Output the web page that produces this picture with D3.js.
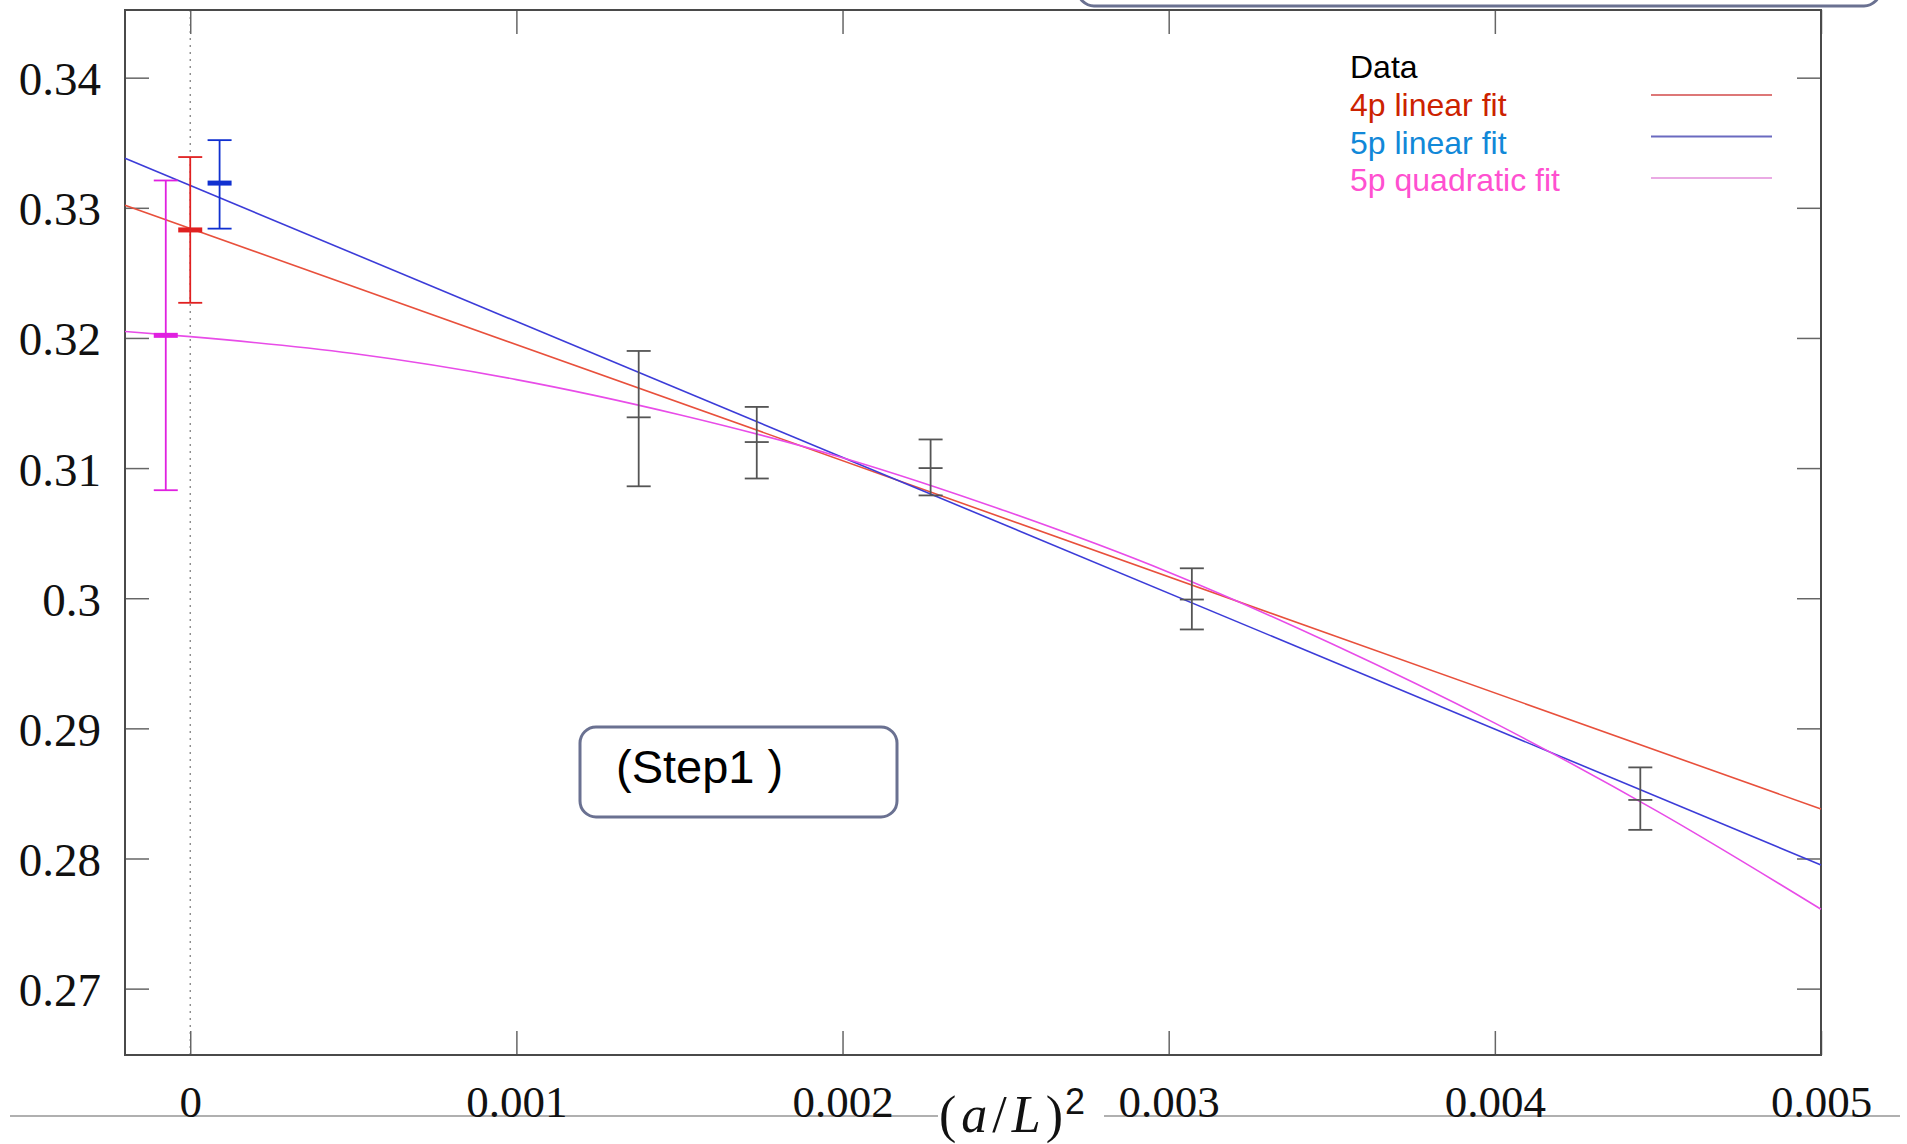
<!DOCTYPE html>
<html>
<head>
<meta charset="utf-8">
<script src="https://cdn.jsdelivr.net/npm/d3@7"></script>
<style>
    html, body { margin: 0; padding: 0; background: #fff; overflow: hidden; }
</style>
</head>
<body>
<svg id="app"></svg>
<script>
// data points (a/L)^2 vs value, with error bars
const dataX  = [0.001375, 0.001737, 0.00227, 0.003071, 0.004446];
const dataY  = [0.3139, 0.3120, 0.3100, 0.2999, 0.2845];
const dataLo = [0.3086, 0.3092, 0.3079, 0.2976, 0.2822];
const dataHi = [0.3190, 0.3147, 0.3122, 0.3023, 0.2870];

// continuum extrapolations (drawn slightly offset around x = 0)
const fitNames = ["4p linear fit", "5p linear fit", "5p quadratic fit"];
const extraX  = [0, 0.00009, -0.000075];
const extraY  = [0.3283, 0.3319, 0.3202];
const extraLo = [0.3227, 0.3284, 0.3083];
const extraHi = [0.3339, 0.3352, 0.3321];

// fit curves
const fit4pX = [-0.0002, 0.005];
const fit4pY = [0.3302, 0.2838];
const fit5pX = [-0.0002, 0.005];
const fit5pY = [0.3338, 0.2795];
const quadX = [-0.0002, 0, 0.0005, 0.001, 0.0015, 0.002, 0.0025, 0.003, 0.0035, 0.004, 0.0045, 0.005];
const quadY = [0.3205, 0.3201, 0.3188, 0.3168, 0.3141, 0.3108, 0.3067, 0.3020, 0.2965, 0.2904, 0.2836, 0.2761];

const xTicks = [0, 0.001, 0.002, 0.003, 0.004, 0.005];
const xTickLabels = ["0", "0.001", "0.002", "0.003", "0.004", "0.005"];
const yTicks = [0.27, 0.28, 0.29, 0.30, 0.31, 0.32, 0.33, 0.34];
const yTickLabels = ["0.27", "0.28", "0.29", "0.3", "0.31", "0.32", "0.33", "0.34"];

const W = 1907, H = 1144;
const plotLeft = 125, plotRight = 1821, plotTop = 10, plotBottom = 1055;

const lineColors = ["#e8503c", "#3c3cd8", "#e84ce8"];
const pointColors = ["#e02020", "#1030d0", "#e020e0"];
const textColors = ["#cc2200", "#1188d8", "#ff50d0"];
const legendLineColors = ["#dd7777", "#6a6ac0", "#eaaae4"];

const svg = d3.select("#app")
    .attr("width", W)
    .attr("height", H)
    .style("background", "#fff");

const x = d3.scaleLinear().domain([-0.0002, 0.005]).range([plotLeft, plotRight]);
const y = d3.scaleLinear().domain([0.2649, 0.3452]).range([plotBottom, plotTop]);

// bits of slide decoration
svg.append("rect")
    .attr("x", 1078).attr("y", -60)
    .attr("width", 802).attr("height", 66)
    .attr("rx", 16)
    .attr("fill", "none")
    .attr("stroke", "#6a7191")
    .attr("stroke-width", 3);

svg.append("line")
    .attr("x1", 10).attr("x2", 1900)
    .attr("y1", 1116).attr("y2", 1116)
    .attr("stroke", "#b0b0b0")
    .attr("stroke-width", 2);

// zero line
svg.append("line")
    .attr("x1", x(0)).attr("x2", x(0))
    .attr("y1", plotTop).attr("y2", plotBottom)
    .attr("stroke", "#777")
    .attr("stroke-width", 1.2)
    .attr("stroke-dasharray", "2,5");

// axes with inward ticks on all four sides
const tickFont = "'Liberation Serif', 'Times New Roman', serif";

const gx = svg.append("g")
    .attr("transform", `translate(0,${plotBottom})`)
    .call(d3.axisBottom(x).tickValues(xTicks)
        .tickFormat((d, i) => xTickLabels[i])
        .tickSize(-24).tickSizeOuter(0).tickPadding(30));

const gy = svg.append("g")
    .attr("transform", `translate(${plotLeft},0)`)
    .call(d3.axisLeft(y).tickValues(yTicks)
        .tickFormat((d, i) => yTickLabels[i])
        .tickSize(-24).tickSizeOuter(0).tickPadding(24));

const gt = svg.append("g")
    .attr("transform", `translate(0,${plotTop})`)
    .call(d3.axisTop(x).tickValues(xTicks).tickFormat("")
        .tickSize(-24).tickSizeOuter(0));

const gr = svg.append("g")
    .attr("transform", `translate(${plotRight},0)`)
    .call(d3.axisRight(y).tickValues(yTicks).tickFormat("")
        .tickSize(-24).tickSizeOuter(0));

[gx, gy, gt, gr].forEach(g => {
    g.select(".domain").remove();
    g.selectAll(".tick line").attr("stroke", "#666").attr("stroke-width", 1.5);
    g.selectAll(".tick text")
        .attr("font-family", tickFont)
        .attr("fill", "#111");
});
gx.selectAll(".tick text").attr("font-size", 45);
gy.selectAll(".tick text").attr("font-size", 47).attr("dy", "0.36em");

svg.append("rect")
    .attr("x", plotLeft).attr("y", plotTop)
    .attr("width", plotRight - plotLeft).attr("height", plotBottom - plotTop)
    .attr("fill", "none")
    .attr("stroke", "#4a4a4a")
    .attr("stroke-width", 2);

// fit curves
const lineGen = d3.line().x(d => x(d[0])).y(d => y(d[1]));
const fits = [
    d3.zip(fit4pX, fit4pY),
    d3.zip(fit5pX, fit5pY),
    d3.zip(quadX, quadY),
];
fits.forEach((pts, i) => {
    svg.append("path")
        .attr("d", i == 2 ? lineGen.curve(d3.curveMonotoneX)(pts) : lineGen.curve(d3.curveLinear)(pts))
        .attr("fill", "none")
        .attr("stroke", lineColors[i])
        .attr("stroke-width", 1.6);
});

// error bars
const cap = 12;
function errorBar(xv, yv, lo, hi, color, centerWidth) {
    const px = x(xv);
    const g = svg.append("g").attr("stroke", color);
    g.append("line").attr("x1", px).attr("x2", px).attr("y1", y(lo)).attr("y2", y(hi)).attr("stroke-width", 1.8);
    g.append("line").attr("x1", px - cap).attr("x2", px + cap).attr("y1", y(lo)).attr("y2", y(lo)).attr("stroke-width", 1.8);
    g.append("line").attr("x1", px - cap).attr("x2", px + cap).attr("y1", y(hi)).attr("y2", y(hi)).attr("stroke-width", 1.8);
    g.append("line").attr("x1", px - cap).attr("x2", px + cap).attr("y1", y(yv)).attr("y2", y(yv)).attr("stroke-width", centerWidth);
}

for (let i = 0; i < dataX.length; i++) {
    errorBar(dataX[i], dataY[i], dataLo[i], dataHi[i], "#555", 1.8);
}
for (let i = 0; i < extraX.length; i++) {
    errorBar(extraX[i], extraY[i], extraLo[i], extraHi[i], pointColors[i], 5);
}

// legend
const legendFont = "'Liberation Sans', Arial, sans-serif";
const legendNames = ["Data"].concat(fitNames);
const legendColors = ["#000"].concat(textColors);
legendNames.forEach((name, i) => {
    svg.append("text")
        .attr("x", 1350)
        .attr("y", 78 + i * 37.8)
        .attr("font-family", legendFont)
        .attr("font-size", 32)
        .attr("fill", legendColors[i])
        .text(name);
});
fitNames.forEach((name, i) => {
    svg.append("line")
        .attr("x1", 1651).attr("x2", 1772)
        .attr("y1", 95 + i * 41.5).attr("y2", 95 + i * 41.5)
        .attr("stroke", legendLineColors[i])
        .attr("stroke-width", 2);
});

// x axis title, sits on the slide rule
svg.append("rect")
    .attr("x", 938).attr("y", 1085)
    .attr("width", 166).attr("height", 58)
    .attr("fill", "#fff");

const xt = svg.append("text")
    .attr("x", 939)
    .attr("y", 1132)
    .attr("font-family", tickFont)
    .attr("font-size", 52)
    .attr("letter-spacing", 5)
    .attr("fill", "#111");
xt.append("tspan").text("(");
xt.append("tspan").attr("font-style", "italic").text("a");
xt.append("tspan").text("/");
xt.append("tspan").attr("font-style", "italic").text("L");
xt.append("tspan").text(")");
xt.append("tspan")
    .attr("font-family", legendFont)
    .attr("font-size", 36)
    .attr("letter-spacing", 0)
    .attr("dx", -3)
    .attr("dy", -18)
    .text("2");

// step label box
svg.append("rect")
    .attr("x", 580).attr("y", 727)
    .attr("width", 317).attr("height", 90)
    .attr("rx", 16)
    .attr("fill", "#fff")
    .attr("stroke", "#6a7191")
    .attr("stroke-width", 3);

svg.append("text")
    .attr("x", 616)
    .attr("y", 783)
    .attr("font-family", legendFont)
    .attr("font-size", 47)
    .attr("fill", "#000")
    .text("(Step1 )");
</script>
</body>
</html>
